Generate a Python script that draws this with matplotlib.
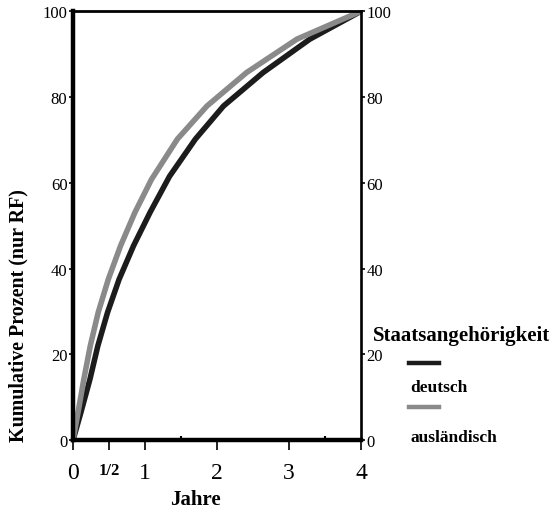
import matplotlib.pyplot as plt

# Kumulative Prozent nach Jahren
jahre_aus = [0, 0.07, 0.15, 0.24, 0.35, 0.49, 0.66, 0.86, 1.09, 1.45, 1.86, 2.41, 3.11, 4]
auslaendisch = [0, 6.5, 14.2, 22, 29.8, 37.5, 45.3, 53.1, 60.8, 70.2, 77.9, 85.7, 93.5, 100]
jahre_de = [0, 0.11, 0.235, 0.345, 0.48, 0.64, 0.84, 1.07, 1.34, 1.70, 2.09, 2.64, 3.29, 4]
deutsch = [0, 6.5, 14.2, 22, 29.8, 37.5, 45.3, 53.1, 61.5, 70.2, 77.9, 85.7, 93.5, 100]

x_ticks = [0, 0.5, 1, 2, 3, 4]
x_labels = ["0", "1/2", "1", "2", "3", "4"]
y_ticks = [0, 20, 40, 60, 80, 100]

plt.rcParams['font.family'] = ['Liberation Serif', 'DejaVu Serif']

fig = plt.figure(figsize=(5.49, 5.10), dpi=100)
ax = fig.add_axes([0.133, 0.135, 0.5246, 0.841])

ax.plot(jahre_de, deutsch, color="#1c1c1c", linewidth=4.0,
        solid_capstyle='butt', solid_joinstyle='round')
ax.plot(jahre_aus, auslaendisch, color="#8a8a8a", linewidth=4.0,
        solid_capstyle='butt', solid_joinstyle='round')

ax.set_xlim(0, 4)
ax.set_ylim(0, 100)

ax.spines['left'].set_linewidth(3.2)
ax.spines['bottom'].set_linewidth(3.2)
ax.spines['top'].set_linewidth(2.0)
ax.spines['right'].set_linewidth(1.9)

ax.set_xticks(x_ticks)
ax.set_xticklabels(x_labels, fontsize=17)
for lbl in ax.get_xticklabels():
    if lbl.get_text() == "1/2":
        lbl.set_fontsize(12)
        lbl.set_fontweight('bold')
ax.set_xticks([1.5, 3.5], minor=True)
ax.tick_params(axis='x', which='major', direction='out', length=7, width=1.2, pad=9)
ax.tick_params(axis='x', which='minor', direction='in', length=3, width=1.5)

ax.set_yticks(y_ticks)
ax.tick_params(axis='y', direction='out', length=3, width=1.2, pad=1, labelsize=12,
               left=True, right=True, labelleft=True, labelright=True)

fig.text(0.034, 0.382, "Kumulative Prozent (nur RF)", rotation=90, ha='center', va='center',
         fontsize=14.4, fontweight='bold')
fig.text(0.355, 0.02, "Jahre", ha='center', va='center', fontsize=15, fontweight='bold')

# Legende
fig.text(0.679, 0.341, "Staatsangehörigkeit", ha='left', va='center', fontsize=15, fontweight='bold')
fig.add_artist(plt.Line2D([0.745, 0.800], [0.286, 0.286], color="#1c1c1c", linewidth=3.2,
                          transform=fig.transFigure))
fig.text(0.748, 0.239, "deutsch", ha='left', va='center', fontsize=12.5, fontweight='bold')
fig.add_artist(plt.Line2D([0.745, 0.800], [0.200, 0.200], color="#8a8a8a", linewidth=3.2,
                          transform=fig.transFigure))
fig.text(0.748, 0.141, "ausländisch", ha='left', va='center', fontsize=12.5, fontweight='bold')

plt.savefig("out.png", dpi=100)
